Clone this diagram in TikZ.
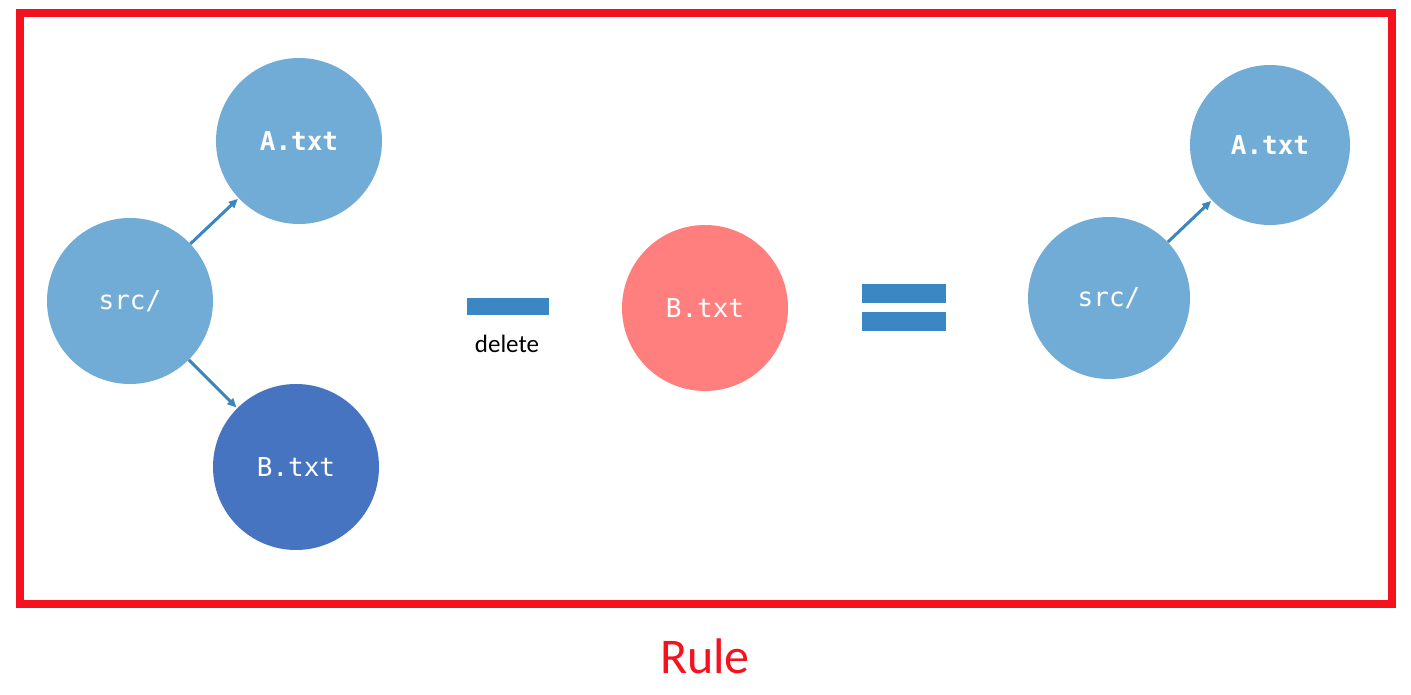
\documentclass[tikz,border=0pt]{standalone}
\usepackage{fontspec}
\setmainfont{Carlito}
\setmonofont{DejaVu Sans Mono}
\usetikzlibrary{arrows.meta}
\definecolor{lblue}{HTML}{71ACD7}
\definecolor{dblue}{HTML}{4674C1}
\definecolor{pink}{HTML}{FF7F7E}
\definecolor{barblue}{HTML}{3A87C3}
\definecolor{arrblue}{HTML}{3A85C2}
\definecolor{framered}{HTML}{F5121F}
\begin{document}
\begin{tikzpicture}[x=1pt,y=-1pt,
  bubble/.style={circle,inner sep=0pt,minimum size=166pt,text=white,font=\ttfamily\fontsize{26}{30}\selectfont},
  conn/.style={arrblue,line width=3pt,-{Triangle[length=9pt,width=8pt]},shorten >=1pt}]
\useasboundingbox (0,0) rectangle (1411,695);
\draw[framered,line width=8pt] (20,13) rectangle (1392,604);
% left group
\node[bubble,fill=lblue] (src1) at (130,301) {src/};
\node[bubble,fill=lblue,font=\ttfamily\bfseries\fontsize{26}{30}\selectfont] (a1) at (299,141) {A.txt};
\node[bubble,fill=dblue] (b1) at (296,467) {B.txt};
\draw[conn] (src1) -- (a1);
\draw[conn] (src1) -- (b1);
% minus
\fill[barblue] (467,298) rectangle (549,315);
\node[font=\fontsize{25}{30}\selectfont] (del) at (507,344) {delete};
% red B
\node[bubble,fill=pink] (b2) at (705,308) {B.txt};
% equals
\fill[barblue] (862,284) rectangle (946,303);
\fill[barblue] (862,312) rectangle (946,331);
% right group
\node[bubble,fill=lblue,minimum size=162pt] (src2) at (1109,298) {src/};
\node[bubble,fill=lblue,minimum size=160pt,font=\ttfamily\bfseries\fontsize{26}{30}\selectfont] (a2) at (1270,145) {A.txt};
\draw[conn] (src2) -- (a2);
% caption
\node[text=framered,font=\fontsize{50}{60}\selectfont] (rule) at (705,656) {Rule};
\end{tikzpicture}
\end{document}
